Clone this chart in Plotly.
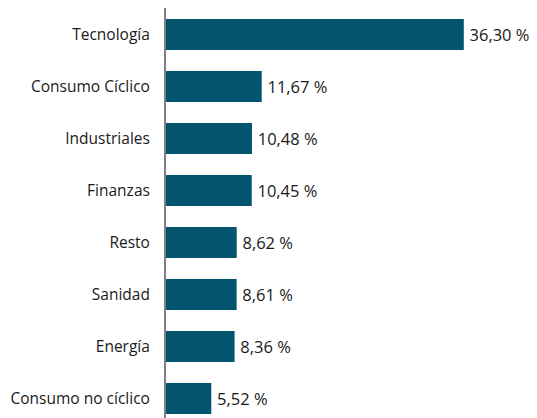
import plotly.graph_objects as go

categories = ["Tecnología", "Consumo Cíclico", "Industriales", "Finanzas",
              "Resto", "Sanidad", "Energía", "Consumo no cíclico"]
values = [36.30, 11.67, 10.48, 10.45, 8.62, 8.61, 8.36, 5.52]

labels = ["\u2009" + f"{v:.2f}".replace(".", ",") + " %" for v in values]

fig = go.Figure(go.Bar(
    x=values, y=categories, orientation="h",
    marker=dict(color="#03546F", line=dict(width=0)),
    text=labels, textposition="outside",
    textfont=dict(family="Open Sans", size=16.5, color="#1a1a1a"),
    cliponaxis=False, width=0.6,
))

fig.update_layout(
    width=537, height=418,
    margin=dict(l=158, r=0, t=0, b=0, autoexpand=False),
    paper_bgcolor="white", plot_bgcolor="white",
    showlegend=False,
    font=dict(family="Open Sans", size=15.5, color="#1a1a1a"),
    xaxis=dict(range=[0, 46.2], visible=False, fixedrange=True, automargin=False),
    yaxis=dict(range=[7.529, -0.51], showline=True, linecolor="#808080", linewidth=2,
               showgrid=False, ticks="", ticklabelstandoff=11, automargin=False,
               tickfont=dict(family="Open Sans", size=15.5, color="#1a1a1a")),
)

fig.write_html("out.html")
